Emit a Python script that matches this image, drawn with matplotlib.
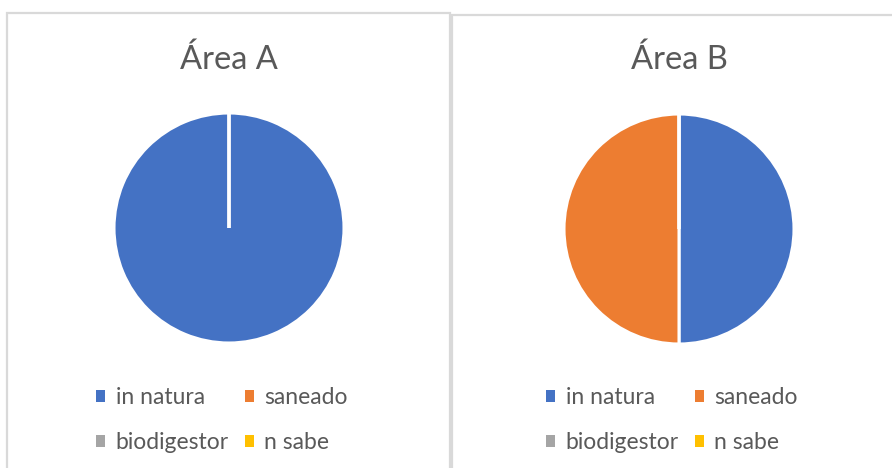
import matplotlib.pyplot as plt
from matplotlib.patches import Rectangle, Patch

categories = ['in natura', 'saneado', 'biodigestor', 'n sabe']
colors = ['#4472C4', '#ED7D31', '#A5A5A5', '#FFC000']
area_a = [100, 0, 0, 0]
area_b = [50, 50, 0, 0]
titles = ['Área A', 'Área B']

plt.rcParams['font.family'] = ['Lato', 'DejaVu Sans']
W, H = 892, 468
fig = plt.figure(figsize=(W / 100, H / 100), dpi=100)

# panel frames (excel chart areas)
for x0, y0, x1 in [(7, 13, 450), (452, 15, 900)]:
    fig.patches.append(Rectangle((x0 / W, -0.1), (x1 - x0) / W, 0.1 + (H - y0) / H,
                                 transform=fig.transFigure, fill=False,
                                 edgecolor='#D9D9D9', linewidth=1.6))

# legend fills column by column, so reorder to get rows like excel
order = [0, 2, 1, 3]

r = 115
for vals, title, cx, cy, lx in [(area_a, titles[0], 229, 228, 222),
                                (area_b, titles[1], 679, 229, 672)]:
    half = 122
    ax = fig.add_axes([(cx - half) / W, (H - cy - half) / H, 2 * half / W, 2 * half / H])
    ax.pie(vals, colors=colors, startangle=90, counterclock=False, radius=1,
           wedgeprops=dict(edgecolor='white', linewidth=2.2))
    ax.set_xlim(-half / r, half / r)
    ax.set_ylim(-half / r, half / r)
    ax.axis('off')
    fig.text(cx / W, 1 - 60 / H, title, ha='center', va='center',
             fontsize=23.5, color='#595959')
    handles = [Patch(facecolor=colors[i], edgecolor='none') for i in order]
    labels = [categories[i] for i in order]
    fig.legend(handles, labels, loc='center', bbox_to_anchor=(lx / W, 1 - 420 / H),
               ncol=2, frameon=False, fontsize=16.5, labelcolor='#595959',
               handlelength=0.4, handleheight=0.4, handletextpad=0.45,
               columnspacing=0.7, labelspacing=1.05)

fig.savefig('out.png', dpi=100, facecolor='white')
